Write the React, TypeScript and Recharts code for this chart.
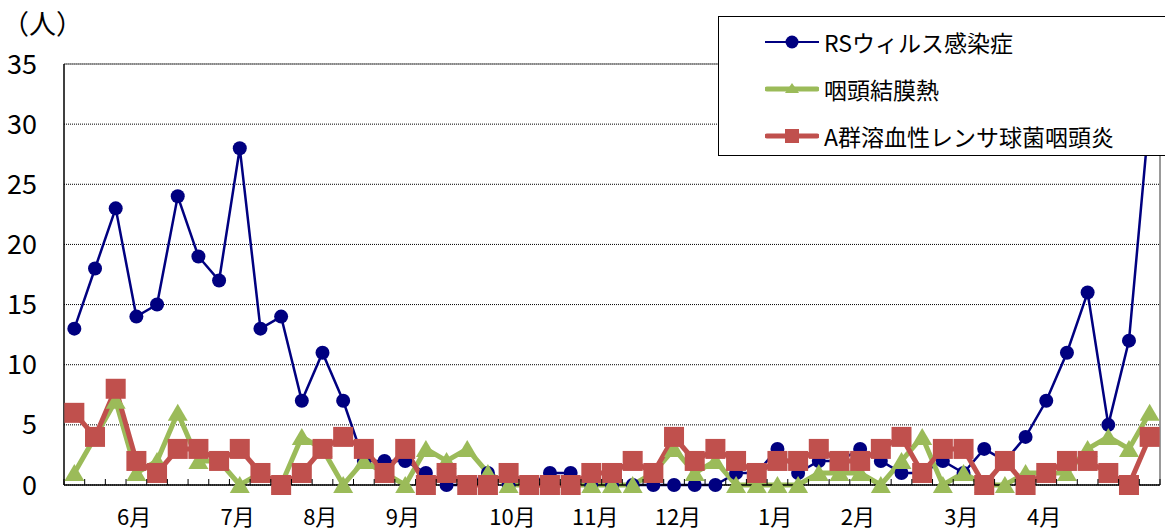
import React from 'react';
import { LineChart, Line, XAxis, YAxis, CartesianGrid, ReferenceLine } from 'recharts';

// 53 weekly categories (index of week)
const weekIndex = [
  0, 1, 2, 3, 4, 5, 6, 7, 8, 9, 10, 11, 12, 13, 14, 15, 16, 17, 18, 19, 20, 21, 22, 23, 24, 25, 26,
  27, 28, 29, 30, 31, 32, 33, 34, 35, 36, 37, 38, 39, 40, 41, 42, 43, 44, 45, 46, 47, 48, 49, 50, 51, 52,
];

// RSウィルス感染症
const rsValues = [
  13, 18, 23, 14, 15, 24, 19, 17, 28, 13,
  14, 7, 11, 7, 2, 2, 2, 1, 0, 0,
  1, 0, 0, 1, 1, 0, 0, 0, 0, 0,
  0, 0, 1, 1, 3, 1, 2, 2, 3, 2,
  1, 1, 2, 1, 3, 2, 4, 7, 11, 16,
  5, 12, 31,
];

// 咽頭結膜熱
const pcfValues = [
  1, 4, 7, 1, 2, 6, 2, 2, 0, 1,
  0, 4, 3, 0, 2, 1, 0, 3, 2, 3,
  1, 0, 0, 0, 0, 0, 0, 0, 1, 3,
  1, 2, 0, 0, 0, 0, 1, 1, 1, 0,
  2, 4, 0, 1, 0, 0, 1, 1, 1, 3,
  4, 3, 6,
];

// A群溶血性レンサ球菌咽頭炎
const gasValues = [
  6, 4, 8, 2, 1, 3, 3, 2, 3, 1,
  0, 1, 3, 4, 3, 1, 3, 0, 1, 0,
  0, 1, 0, 0, 0, 1, 1, 2, 1, 4,
  2, 3, 2, 1, 2, 2, 3, 2, 2, 3,
  4, 1, 3, 3, 0, 2, 0, 1, 2, 2,
  1, 0, 4,
];

// month labels: week index where each month label starts
const monthStartWeeks = [3, 8, 12, 16, 21, 25, 29, 34, 38, 43, 47];
const monthNames = ['6月', '7月', '8月', '9月', '10月', '11月', '12月', '1月', '2月', '3月', '4月'];

const yTicks = [0, 5, 10, 15, 20, 25, 30, 35];

const seriesNames = ['RSウィルス感染症', '咽頭結膜熱', 'A群溶血性レンサ球菌咽頭炎'];
const BLUE = '#000080';
const GREEN = '#9BBB59';
const RED = '#C0504D';

const data = weekIndex.map((w, i) => ({
  w,
  rs: rsValues[i],
  pcf: pcfValues[i],
  gas: gasValues[i],
}));

// tick positions at category boundaries
const boundaryTicks = [...weekIndex.map((w) => w - 0.5), weekIndex[weekIndex.length - 1] + 0.5];

const FONT = '"Noto Sans CJK JP", "Noto Sans", sans-serif';

const XTick = (props: any) => {
  const { x, y, payload } = props;
  const k = payload.value + 0.5;
  const mi = monthStartWeeks.indexOf(k);
  return (
    <g>
      <line x1={x} x2={x} y1={y} y2={y - 6} stroke="#000" strokeWidth={1} />
      {mi >= 0 && (
        <text x={x - 9} y={y + 40} fontSize={22} fill="#000" textAnchor="start" fontFamily={FONT}>
          {monthNames[mi]}
        </text>
      )}
    </g>
  );
};

const CircleDot = (p: any) => {
  const { cx, cy } = p;
  if (cx == null || cy == null) return null;
  return <circle cx={cx} cy={cy} r={7} fill={BLUE} />;
};

const TriangleDot = (p: any) => {
  const { cx, cy } = p;
  if (cx == null || cy == null) return null;
  return <path d={`M${cx},${cy - 9} L${cx + 10},${cy + 8} L${cx - 10},${cy + 8} Z`} fill={GREEN} />;
};

const SquareDot = (p: any) => {
  const { cx, cy } = p;
  if (cx == null || cy == null) return null;
  return <rect x={cx - 10} y={cy - 10} width={20} height={20} fill={RED} />;
};

const LegendIcon = ({ kind }: { kind: number }) => {
  if (kind === 0) {
    return (
      <svg width={54} height={20}>
        <line x1={0} x2={54} y1={10} y2={10} stroke={BLUE} strokeWidth={2} />
        <circle cx={27} cy={10} r={6.5} fill={BLUE} />
      </svg>
    );
  }
  if (kind === 1) {
    return (
      <svg width={54} height={20}>
        <line x1={2} x2={52} y1={10} y2={10} stroke={GREEN} strokeWidth={5} strokeLinecap="round" />
        <path d="M27,4 L34,14 L20,14 Z" fill={GREEN} />
      </svg>
    );
  }
  return (
    <svg width={54} height={20}>
      <line x1={2} x2={52} y1={10} y2={10} stroke={RED} strokeWidth={5} strokeLinecap="round" />
      <rect x={20} y={3} width={14} height={14} fill={RED} />
    </svg>
  );
};

export default function App() {
  return (
    <div style={{ position: 'absolute', left: 0, top: 0, width: 1165, height: 532, fontFamily: FONT, background: '#fff' }}>
      <LineChart width={1165} height={532} data={data} margin={{ top: 64, right: 5, bottom: 0, left: 0 }}>
        <CartesianGrid vertical={false} stroke="#000" strokeDasharray="1 1" strokeWidth={1} />
        <XAxis
          dataKey="w"
          type="number"
          domain={[-0.5, 52.5]}
          ticks={boundaryTicks}
          interval={0}
          height={47}
          tickSize={0}
          tickMargin={0}
          tickLine={false}
          tick={<XTick />}
          stroke="#000"
          strokeWidth={1.5}
        />
        <YAxis
          type="number"
          domain={[0, 35]}
          ticks={yTicks}
          width={64}
          tickLine={false}
          tickSize={0}
          tickMargin={27}
          stroke="#000"
          strokeWidth={1.5}
          tick={{ fontSize: 27, fill: '#000', fontFamily: FONT }}
        />
        <ReferenceLine y={35} stroke="#888" strokeWidth={1.5} />
        <ReferenceLine x={52.5} stroke="#999" strokeWidth={2} />
        <Line
          dataKey="rs"
          name={seriesNames[0]}
          stroke={BLUE}
          strokeWidth={2.5}
          dot={<CircleDot />}
          activeDot={false}
          isAnimationActive={false}
        />
        <Line
          dataKey="pcf"
          name={seriesNames[1]}
          stroke={GREEN}
          strokeWidth={5}
          dot={<TriangleDot />}
          activeDot={false}
          isAnimationActive={false}
        />
        <Line
          dataKey="gas"
          name={seriesNames[2]}
          stroke={RED}
          strokeWidth={5}
          dot={<SquareDot />}
          activeDot={false}
          isAnimationActive={false}
        />
      </LineChart>
      <div
        style={{
          position: 'absolute',
          left: 2,
          top: 9,
          fontSize: 27,
          lineHeight: 1,
          color: '#000',
          whiteSpace: 'nowrap',
        }}
      >
        （人）
      </div>
      <div
        style={{
          position: 'absolute',
          left: 718,
          top: 16,
          width: 460,
          height: 140,
          boxSizing: 'border-box',
          border: '1px solid #000',
          background: '#fff',
        }}
      >
        {seriesNames.map((name, i) => (
          <div
            key={name}
            style={{
              position: 'absolute',
              left: 46,
              top: 14 + i * 47,
              height: 22,
              display: 'flex',
              alignItems: 'center',
              whiteSpace: 'nowrap',
            }}
          >
            <LegendIcon kind={i} />
            <span style={{ marginLeft: 5, fontSize: 23, color: '#000', lineHeight: 1 }}>{name}</span>
          </div>
        ))}
      </div>
    </div>
  );
}
